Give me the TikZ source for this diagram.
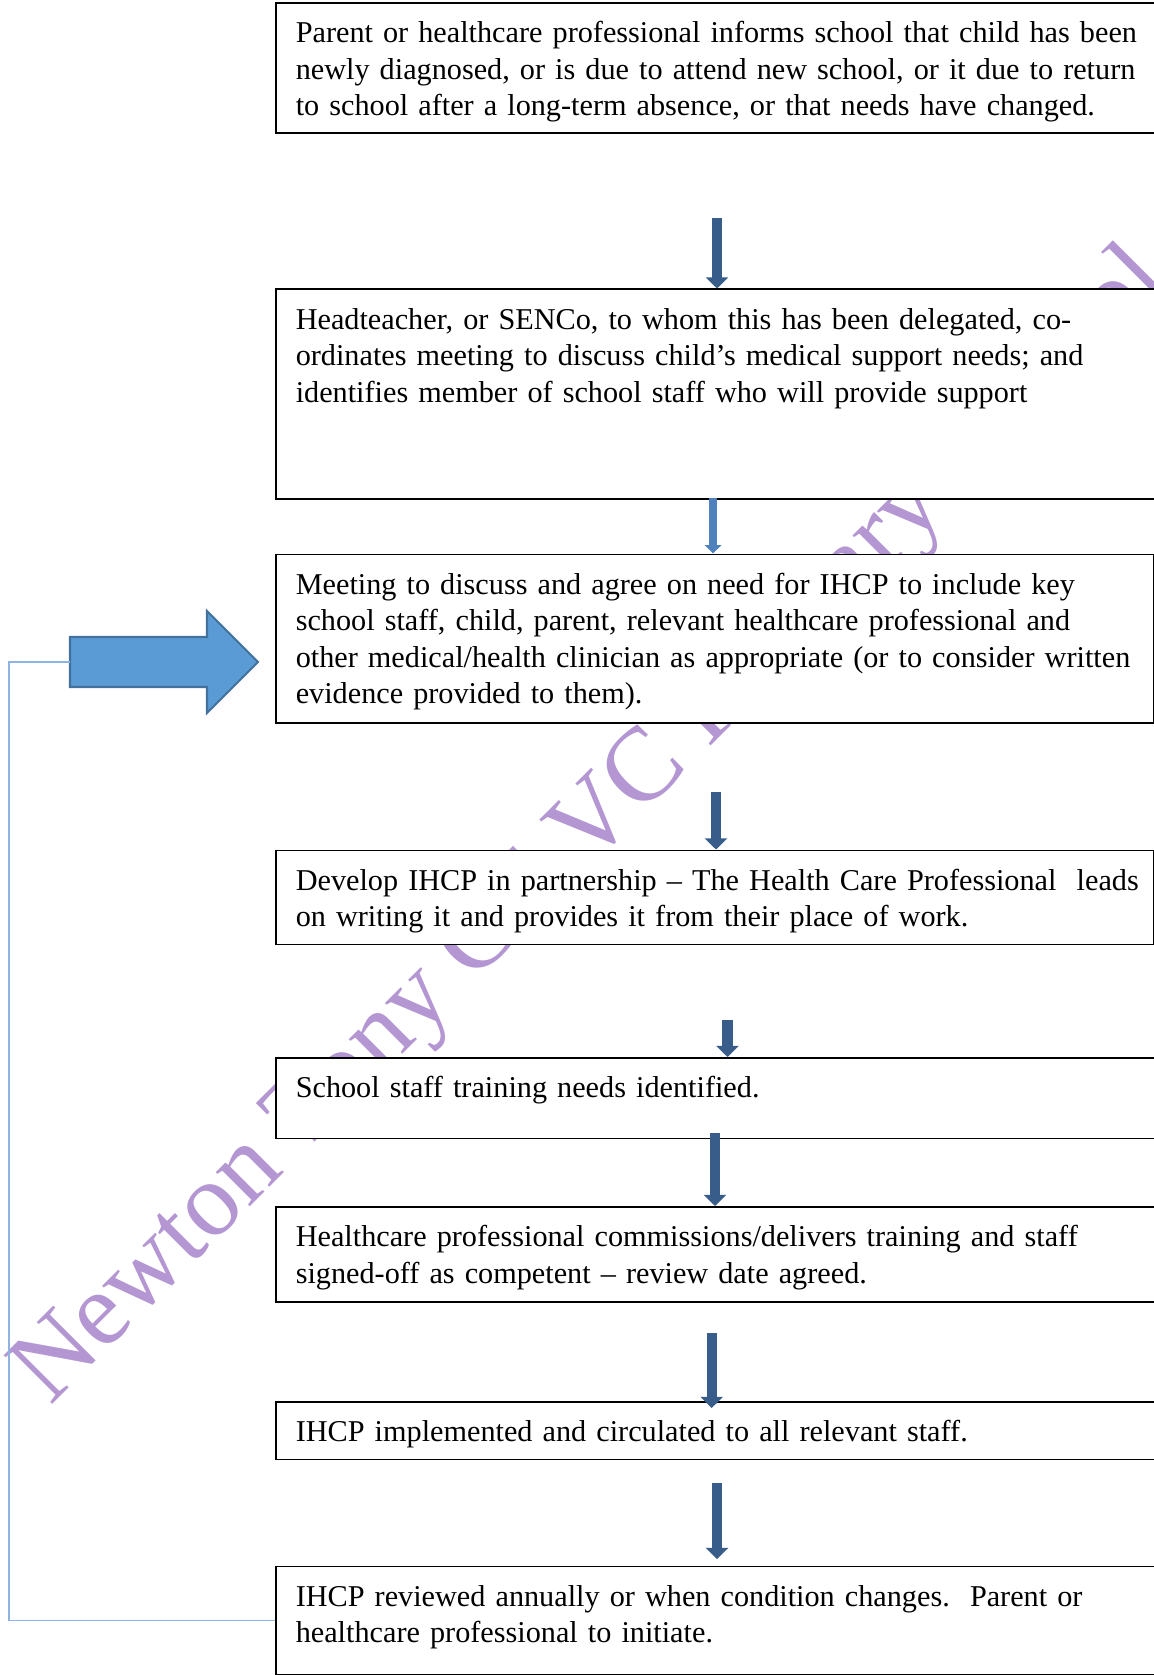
\documentclass[tikz,border=0pt]{standalone}
\usepackage{fontspec}
\setmainfont{Liberation Serif}
\usetikzlibrary{arrows.meta}

\definecolor{arrowblue}{RGB}{56,93,138}
\definecolor{lightflow}{RGB}{79,129,189}
\definecolor{bigfill}{RGB}{91,155,213}
\definecolor{bigdraw}{RGB}{65,113,156}
\definecolor{loopblue}{RGB}{143,180,227}
\definecolor{wmpurple}{RGB}{180,150,210}

% keep each line of a box on one line
\newcommand{\boxlines}[1]{\begin{tabular}[t]{@{}l@{}}#1\end{tabular}}

\begin{document}
\begin{tikzpicture}[
    x=0.387pt, y=-0.387pt,
    stepbox/.style={draw=black, line width=0.6pt, fill=white, anchor=north west,
        inner xsep=7.74pt, inner ysep=0pt, text width=332.8pt, align=left,
        text height=15.5pt, font=\fontsize{11.7}{14.1}\selectfont},
    shortbox/.style={stepbox, text width=324.3pt},
    flow/.style={arrowblue, line width=3.9pt, -{Triangle[width=8.5pt, length=4.3pt]}},
    flowlight/.style={lightflow, line width=3.1pt, -{Triangle[width=6.2pt, length=3.2pt]}},
    bigarrow/.style={fill=bigfill, draw=bigdraw, line width=0.8pt},
    loopline/.style={loopblue, line width=0.6pt},
    watermark/.style={rotate=45, anchor=base west, inner sep=0pt, text=wmpurple,
        font=\fontsize{40.6}{40.6}\selectfont}
]

\useasboundingbox (0,0) rectangle (1154,1675);
\clip (0,0) rectangle (1154,1675);

% Watermark
\node[watermark] (wm) at (50,1407) {Newton Tony CE VC Primary School};

% Steps
\node[stepbox, text depth=35.0pt] (inform) at (275,2) {\boxlines{%
    Parent or healthcare professional informs school that child has been\\
    newly diagnosed, or is due to attend new school, or it due to return\\
    to school after a long-term absence, or that needs have changed.}};
\node[stepbox, text depth=65.6pt] (coord) at (275,288.5) {\boxlines{%
    Headteacher, or SENCo, to whom this has been delegated, co-\\
    ordinates meeting to discuss child’s medical support needs; and\\
    identifies member of school staff who will provide support}};
\node[shortbox, text depth=49.7pt] (meet) at (275,553.5) {\boxlines{%
    Meeting to discuss and agree on need for IHCP to include key\\
    school staff, child, parent, relevant healthcare professional and\\
    other medical/health clinician as appropriate (or to consider written\\
    evidence provided to them).}};
\node[shortbox, text depth=20.9pt] (develop) at (275,849.5) {\boxlines{%
    Develop IHCP in partnership – The Health Care Professional\ \ leads\\
    on writing it and provides it from their place of work.}};
\node[stepbox, text depth=15.8pt] (needs) at (275,1057) {\boxlines{%
    School staff training needs identified.}};
\node[stepbox, text depth=21.3pt] (train) at (275,1206) {\boxlines{%
    Healthcare professional commissions/delivers training and staff\\
    signed-off as competent – review date agreed.}};
\node[stepbox, text depth=6.8pt] (implement) at (275,1401) {\boxlines{%
    IHCP implemented and circulated to all relevant staff.}};
\node[stepbox, text depth=26.5pt] (review) at (275,1565.5) {\boxlines{%
    IHCP reviewed annually or when condition changes.\ \ Parent or\\
    healthcare professional to initiate.}};

% Arrow tails
\coordinate (t1) at (717,218);
\coordinate (t2) at (713,498);
\coordinate (t3) at (716,792);
\coordinate (t4) at (727.5,1020);
\coordinate (t5) at (715,1133);
\coordinate (t6) at (711.7,1333);
\coordinate (t7) at (717,1483);

% Flow arrows
\draw[flow] (t1) -- (t1 |- coord.north);
\draw[flowlight] (t2) -- (t2 |- meet.north);
\draw[flow] (t3) -- (t3 |- develop.north);
\draw[flow] (t4) -- (t4 |- needs.north);
\draw[flow] (t5) -- (t5 |- train.north);
\draw[flow, shorten >=-2.7pt] (t6) -- (t6 |- implement.north);
\draw[flow, shorten >=2.5pt] (t7) -- (t7 |- review.north);

% Big arrow back into the meeting
\draw[bigarrow] (70,637) -- (207,637) -- (207,611) -- (258,662)
    -- (207,713) -- (207,687) -- (70,687) -- cycle;
\coordinate (loopin) at (70,662);

% Review loop
\draw[loopline] (review.west) -- ++(-266,0) |- (loopin);

\end{tikzpicture}
\end{document}
